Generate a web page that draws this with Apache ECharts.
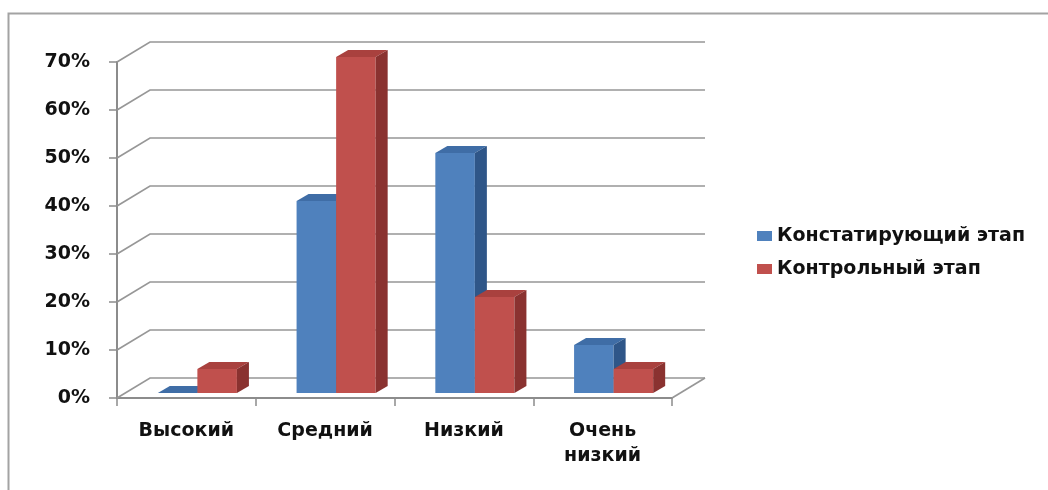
<!DOCTYPE html>
<html>
<head>
<meta charset="utf-8">
<script src="https://cdn.jsdelivr.net/npm/echarts@6/dist/echarts.min.js"></script>
<style>
  html, body { margin: 0; padding: 0; background: #fff; }
  #chart { width: 1048px; height: 490px; }
</style>
</head>
<body>
<div id="chart"></div>
<script>
// Уровни и доли учащихся на двух этапах эксперимента (в процентах)
const categories = ['Высокий', 'Средний', 'Низкий', 'Очень\nнизкий'];
const seriesNames = ['Констатирующий этап', 'Контрольный этап'];
const ascertainingStage = [0, 40, 50, 10];
const controlStage = [5, 70, 20, 5];
const yTicks = [0, 10, 20, 30, 40, 50, 60, 70];

// Pseudo-3D geometry (pixels): back wall offset and bar depth
const WALL_DX = 33, WALL_DY = -20;
const BAR_OX = 11, BAR_OY = -5;
const BAR_DX = 12, BAR_DY = -7;
const BAR_FRAC = 0.285;

const faces = [
  { front: '#4F81BD', top: '#3F6DA6', side: '#2F5688' },
  { front: '#C0504D', top: '#A9413E', side: '#8A3230' }
];

const chart = echarts.init(document.getElementById('chart'), null, { renderer: 'canvas' });

function renderBar(params, api) {
  const cat = api.value(0);
  const v = api.value(1);
  const base = api.coord([cat, 0]);
  const top = api.coord([cat, v]);
  const band = api.size([1, 0])[0];
  const w = band * BAR_FRAC;
  const cx = base[0] + BAR_OX;
  const x0 = params.seriesIndex === 0 ? cx - w : cx;
  const x1 = x0 + w;
  const yb = base[1] + BAR_OY;
  const yt = top[1] + BAR_OY;
  const c = faces[params.seriesIndex];
  return {
    type: 'group',
    children: [
      { type: 'polygon', shape: { points: [[x0, yb], [x1, yb], [x1, yt], [x0, yt]] },
        style: { fill: c.front } },
      { type: 'polygon', shape: { points: [[x0, yt], [x1, yt], [x1 + BAR_DX, yt + BAR_DY], [x0 + BAR_DX, yt + BAR_DY]] },
        style: { fill: c.top } },
      { type: 'polygon', shape: { points: [[x1, yb], [x1 + BAR_DX, yb + BAR_DY], [x1 + BAR_DX, yt + BAR_DY], [x1, yt]] },
        style: { fill: c.side } }
    ]
  };
}

function renderWall(params, api) {
  const v = api.value(1);
  const band = api.size([1, 0])[0];
  const pl = api.coord([0, v]);
  const pr = api.coord([categories.length - 1, v]);
  const left = pl[0] - band / 2;
  const right = pr[0] + band / 2;
  const y = pl[1];
  const style = { stroke: '#979797', lineWidth: 1.7, fill: null };
  const children = [
    { type: 'polyline', shape: { points: [[left, y], [left + WALL_DX, y + WALL_DY], [right + WALL_DX, y + WALL_DY]] }, style: style }
  ];
  if (v === 0) {
    children.push({ type: 'line', shape: { x1: right, y1: y, x2: right + WALL_DX, y2: y + WALL_DY }, style: style });
  }
  return { type: 'group', children: children };
}

const labelFont = { fontFamily: 'DejaVu Sans', fontWeight: 'bold', fontSize: 19, color: '#111111' };

chart.setOption({
  animation: false,
  backgroundColor: '#ffffff',
  graphic: [{
    type: 'polyline',
    shape: { points: [[8.5, 600], [8.5, 13.5], [1100, 13.5]] },
    style: { stroke: '#a3a3a3', lineWidth: 2, fill: null },
    silent: true
  }],
  grid: { left: 117, right: 376, top: 62, bottom: 92 },
  legend: {
    data: seriesNames,
    orient: 'vertical',
    left: 757,
    top: 226,
    padding: 0,
    icon: 'rect',
    itemWidth: 15,
    itemHeight: 10,
    itemGap: 13,
    itemTextGap: 5,
    textStyle: Object.assign({ lineHeight: 20 }, labelFont)
  },
  xAxis: {
    type: 'category',
    data: categories,
    boundaryGap: true,
    axisLine: { show: true, lineStyle: { color: '#8c8c8c', width: 2 } },
    axisTick: { show: true, length: 8, alignWithLabel: false, lineStyle: { color: '#8c8c8c', width: 1.5 } },
    axisLabel: Object.assign({ margin: 21, lineHeight: 25, interval: 0 }, labelFont),
    splitLine: { show: false }
  },
  yAxis: {
    type: 'value',
    min: 0,
    max: 70,
    interval: 10,
    axisLine: { show: true, lineStyle: { color: '#8c8c8c', width: 2 } },
    axisTick: { show: true, length: 8, lineStyle: { color: '#8c8c8c', width: 1.5 } },
    axisLabel: Object.assign({ margin: 27, formatter: '{value}%' }, labelFont),
    splitLine: { show: false }
  },
  series: [
    {
      name: seriesNames[0],
      type: 'custom',
      renderItem: renderBar,
      itemStyle: { color: faces[0].front },
      encode: { x: 0, y: 1 },
      data: ascertainingStage.map((v, i) => [i, v]),
      z: 3
    },
    {
      name: seriesNames[1],
      type: 'custom',
      renderItem: renderBar,
      itemStyle: { color: faces[1].front },
      encode: { x: 0, y: 1 },
      data: controlStage.map((v, i) => [i, v]),
      z: 4
    },
    {
      name: 'wall',
      type: 'custom',
      renderItem: renderWall,
      silent: true,
      encode: { x: 0, y: 1 },
      data: yTicks.map(v => [0, v]),
      z: 1
    }
  ]
});
</script>
</body>
</html>
